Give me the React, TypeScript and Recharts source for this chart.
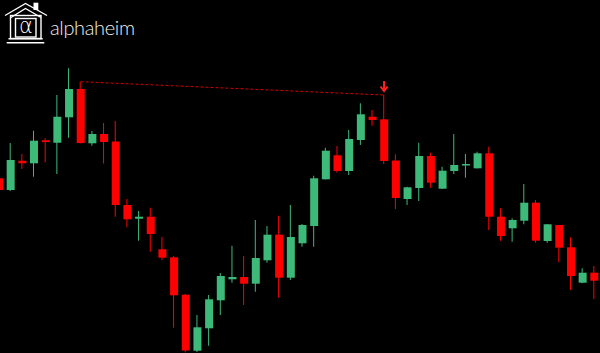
import React from 'react';
import { ComposedChart, Bar, XAxis, YAxis, Cell, ReferenceLine, ReferenceDot } from 'recharts';

// price points, one entry per candle (left to right)
const opens = [
  174.7, 163, 192.3, 189.7, 212.7, 210.3, 235.7, 264, 209.7, 219,
  211.5, 148, 134.3, 136.3, 103.7, 95.7, 58.3, 2.3, 24.7, 52.7,
  73.7, 76, 69.3, 92.7, 118.3, 75.3, 109.7, 127, 173.7, 197.7,
  182, 213, 236.3, 233.7, 192.5, 154, 165, 197, 164.3, 182,
  187.5, 184.7, 199.7, 136.3, 124.7, 132.3, 150.3, 112, 128, 105.7,
  70.3, 80.3,
];
const highs = [
  176, 210, 199, 222.3, 214.7, 258, 284.7, 271.3, 222, 230,
  232, 154, 142, 145.3, 116, 97, 59, 38, 58, 80,
  107.3, 97, 133, 127, 137.3, 148, 129, 177.3, 205.3, 207,
  223, 249.7, 243, 258, 198.7, 166.3, 210.3, 200.3, 186.3, 219,
  199, 201.3, 206.3, 144.7, 134.7, 169, 153, 129, 128, 115.7,
  84.7, 87,
];
const lows = [
  162, 162, 184, 176.3, 190.7, 179, 215.3, 209.5, 207.3, 189.5,
  136.3, 125.7, 112.3, 101.3, 93, 25.3, 0.7, 1, 7.3, 38,
  70.3, 48, 61.3, 90.3, 55.3, 73, 106.3, 106.3, 173.5, 180.3,
  178, 208, 227.3, 189, 144, 148, 152, 165.3, 164, 179,
  175.3, 184.5, 123, 112.3, 111.3, 128.7, 110.3, 110.3, 90.7, 63,
  69.7, 54,
];
const closes = [
  163, 193, 189.7, 212.3, 211, 236.3, 264, 210, 219, 211,
  148, 133.7, 136.3, 119, 95.3, 57.7, 2.5, 25.7, 53.7, 77,
  76, 69.3, 95, 118.3, 75.3, 116, 128, 174.7, 202.3, 182,
  214, 238.7, 233, 192, 155, 165.7, 197, 170.3, 182.3, 188,
  189, 199.7, 136.3, 117, 133, 150.3, 112.3, 128.7, 105.3, 77,
  80.3, 72.3,
];

// resistance line joins these two candle highs, signal arrow on the second
const lineFrom = 7;
const lineTo = 33;

const UP = '#3dba7a';
const DOWN = '#ff0000';

const candles = opens.map((o, i) => ({
  t: i,
  wick: [lows[i], highs[i]],
  body: [Math.min(o, closes[i]), Math.max(o, closes[i])],
  up: closes[i] >= o,
}));

const Arrow = (props: any) => {
  const { cx, cy } = props;
  if (cx == null || cy == null) return null;
  return (
    <g>
      <line x1={cx} y1={cy - 14} x2={cx} y2={cy - 4} stroke="#ff2020" strokeWidth={2} />
      <polyline
        points={`${cx - 3.5},${cy - 8.5} ${cx},${cy - 4} ${cx + 3.5},${cy - 8.5}`}
        fill="none"
        stroke="#ff2020"
        strokeWidth={2}
      />
    </g>
  );
};

const Logo: React.FC = () => (
  <svg width={160} height={50} style={{ position: 'absolute', left: 0, top: 0 }}>
    <g fill="none" stroke="#ffffff" strokeWidth={1.4}>
      <polyline points="5,15.5 25.5,3.5 47,15.5" />
      <polyline points="11,17.5 25.5,8.5 41,17.5" />
      <rect x={10.5} y={15.5} width={30.5} height={23} />
      <rect x={15.5} y={18.5} width={20.5} height={18.5} />
      <line x1={8.5} y1={38.7} x2={42.7} y2={38.7} />
      <line x1={6.7} y1={42.7} x2={44.3} y2={42.7} />
    </g>
    <rect x={33.5} y={2.7} width={4.8} height={7.3} fill="#ffffff" />
    <text
      x={25.8}
      y={33}
      textAnchor="middle"
      fill="#ffffff"
      fontSize={21}
      fontFamily="'DejaVu Sans', sans-serif"
      fontWeight={200}
    >
      α
    </text>
    <text
      x={50}
      y={35}
      fill="#f0f0f0"
      fontSize={20}
      fontFamily="Lato, sans-serif"
      fontWeight={300}
      textLength={85}
    >
      alphaheim
    </text>
  </svg>
);

const App: React.FC = () => {
  return (
    <div
      style={{
        position: 'fixed',
        left: 0,
        top: 0,
        width: 600,
        height: 353,
        background: '#000000',
        overflow: 'hidden',
      }}
    >
      <div style={{ position: 'absolute', left: -7, top: 0 }}>
        <ComposedChart width={607} height={353} data={candles} margin={{ top: 0, right: 0, bottom: 0, left: 0 }}>
          <XAxis xAxisId="w" dataKey="t" hide />
          <XAxis xAxisId="b" dataKey="t" hide />
          <YAxis domain={[0, 353]} hide />
          <Bar xAxisId="w" dataKey="wick" barSize={1} isAnimationActive={false}>
            {candles.map((c, i) => (
              <Cell key={i} fill={c.up ? UP : DOWN} />
            ))}
          </Bar>
          <Bar xAxisId="b" dataKey="body" barSize={8} isAnimationActive={false}>
            {candles.map((c, i) => (
              <Cell key={i} fill={c.up ? UP : DOWN} />
            ))}
          </Bar>
          <ReferenceLine
            xAxisId="b"
            segment={[
              { x: lineFrom, y: highs[lineFrom] },
              { x: lineTo, y: highs[lineTo] },
            ]}
            stroke="#d00000"
            strokeDasharray="3 2"
          />
          <ReferenceDot xAxisId="b" x={lineTo} y={highs[lineTo]} shape={Arrow} />
        </ComposedChart>
      </div>
      <Logo />
    </div>
  );
};

export default App;
